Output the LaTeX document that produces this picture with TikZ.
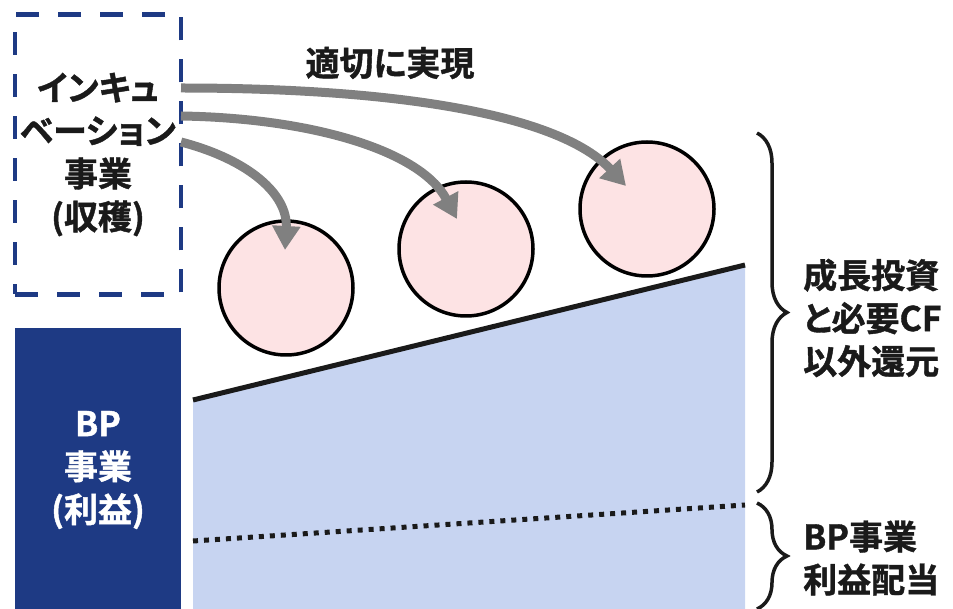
\documentclass[tikz,border=0pt]{standalone}
\usepackage{fontspec}
\setmainfont{Noto Sans CJK JP}[BoldFont={Noto Sans CJK JP Bold},BoldFeatures={FakeBold=1.2},RawFeature=+palt]
\usetikzlibrary{arrows.meta,decorations.pathreplacing}
\definecolor{navy}{RGB}{30,58,132}
\definecolor{areablue}{RGB}{199,212,241}
\definecolor{pinkfill}{RGB}{253,227,228}
\definecolor{arrowgray}{RGB}{128,128,128}
\definecolor{txt}{RGB}{26,26,26}
\tikzset{
  jptext/.style={font=\fontsize{34}{43}\selectfont\bfseries, text=txt, align=center, inner sep=0pt},
  bubble/.style={circle, draw=black, line width=3.5pt, fill=pinkfill, minimum size=134pt, inner sep=0pt},
  flow/.style={draw=arrowgray, line width=9pt, -{Triangle[length=24pt,width=27pt]}},
  bracebar/.style={draw=txt, line width=3.5pt, decorate, decoration={brace, amplitude=30pt}},
}
\begin{document}
\begin{tikzpicture}[x=1pt,y=-1pt]
\useasboundingbox (0,0) rectangle (953,609);
% blue area
\fill[areablue] (193,400) -- (745,265) -- (745,612) -- (193,612) -- cycle;
\draw[txt, line width=5pt] (193,400) -- (745,265);
\draw[txt, line width=5pt, dash pattern=on 5pt off 6pt] (193,541) -- (745,505);
% incubation box
\node[draw=navy, line width=4.5pt, dash pattern=on 23pt off 19pt, minimum width=166pt, minimum height=280pt, inner sep=0pt] (inc) at (98,154.5) {};
\node[jptext] (inctext) at (inc.center) {インキュ\\ベーション\\事業\\(収穫)};
% BP box
\node[fill=navy, minimum width=166pt, minimum height=290pt, inner sep=0pt, anchor=north] (bp) at (98,328) {};
\node[jptext, text=white] (bptext) at (98,470) {BP\\事業\\(利益)};
% circles
\node[bubble] (c1) at (286,288) {};
\node[bubble] (c2) at (466,249) {};
\node[bubble] (c3) at (647,209) {};
% arrow start / end points
\coordinate (s1) at (181,88);
\coordinate (s2) at (181,116);
\coordinate (s3) at (181,142);
\coordinate (t1) at (626,186);
\coordinate (t2) at (457,219);
\coordinate (t3) at (285,250);
\draw[flow] (s1) .. controls (400,88) and (560,115) .. (t1);
\draw[flow] (s2) .. controls (310,118) and (420,150) .. (t2);
\draw[flow] (s3) .. controls (250,160) and (288,195) .. (t3);
\node[jptext] (real) at (390,63) {適切に実現};
% braces
\coordinate (b1a) at (757,133);
\coordinate (b1b) at (757,492);
\coordinate (b2a) at (757,503);
\coordinate (b2b) at (757,609);
\draw[bracebar] (b1a) -- (b1b);
\draw[bracebar] (b2a) -- (b2b);
\node[jptext, align=left, anchor=west] (cf) at (803,318) {成長投資\\と必要CF\\以外還元};
\node[jptext, align=left, anchor=west] (div) at (803,558) {BP事業\\利益配当};
\end{tikzpicture}
\end{document}
